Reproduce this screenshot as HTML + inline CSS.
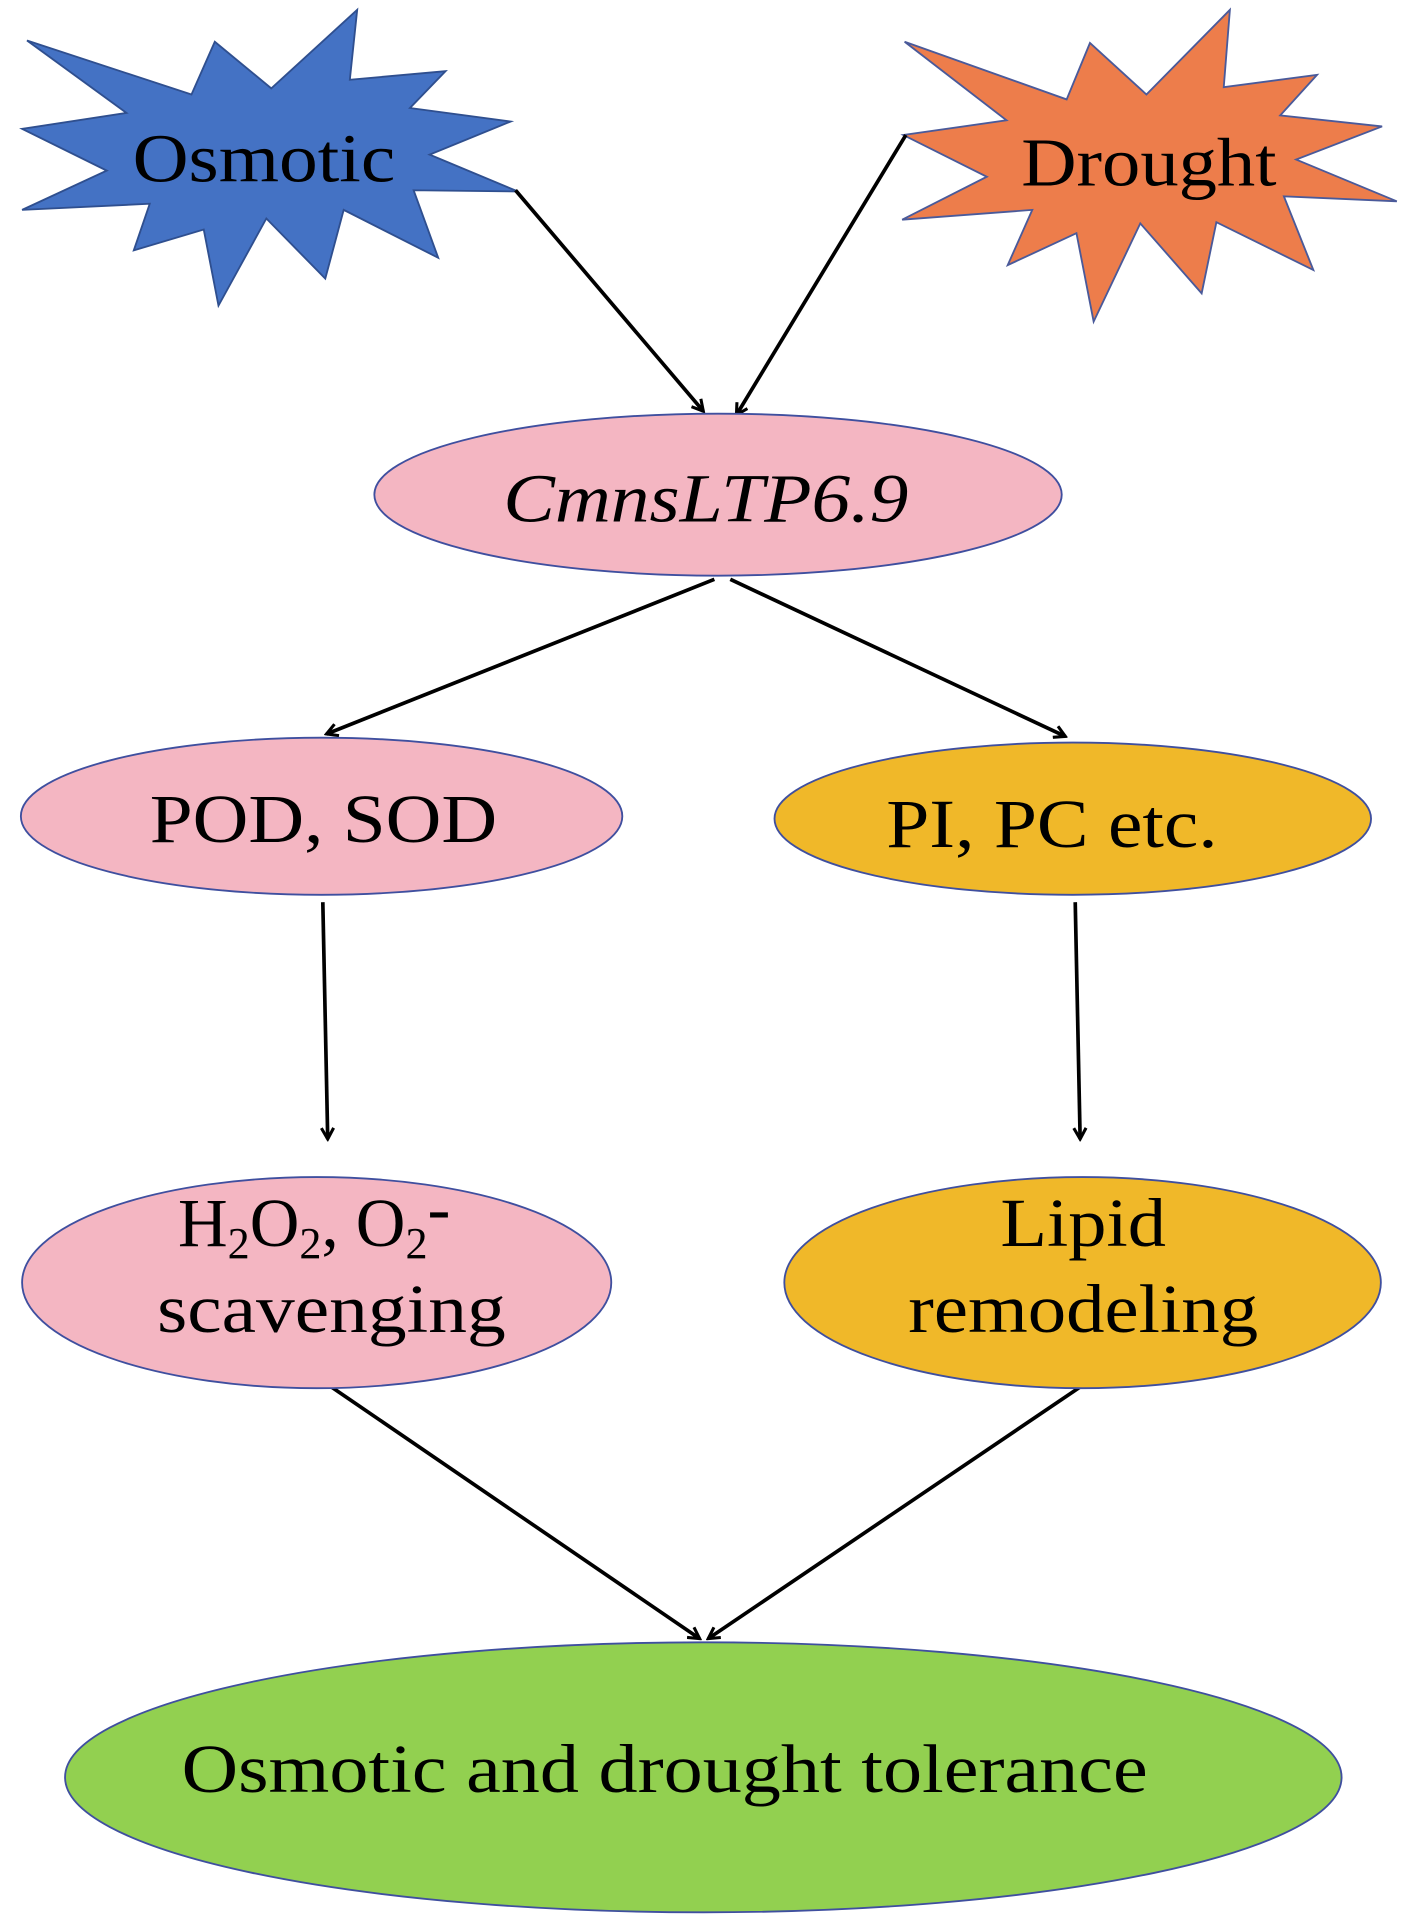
<!DOCTYPE html>
<html><head><meta charset="utf-8"><style>
html,body{margin:0;padding:0;background:#fff;width:1414px;height:1924px;overflow:hidden}
svg{display:block}
text{font-family:"Liberation Serif",serif;fill:#000}
</style></head><body>
<svg width="1414" height="1924" viewBox="0 0 1152 1567.5" xmlns="http://www.w3.org/2000/svg">
<defs>
<marker id="ah" markerWidth="12" markerHeight="12" refX="10" refY="6" orient="auto" markerUnits="userSpaceOnUse" viewBox="0 0 12 12">
<path d="M1,1 L10,6 L1,11" fill="none" stroke="#000" stroke-width="2.5"/>
</marker>
</defs>
<polygon points="22,33 156,77 175,34 221,72 291,8 285,65 363,58 334,88 416,99 350,126 422,156 337,155 357,210 280,171 265,227 217,178 178,249 166,187 109,204 122,166 18,171 87,139 18,105 103,92" fill="#4472c4" stroke="#2f4f8f" stroke-width="1.5"/>
<polygon points="737,34 869,81 888,35 934,77 1002,8 997,71 1073,61 1043,94 1126,103 1056,130 1138,164 1046,160 1070,220 991,181 979,239 929,182 891,262 877,190 821,216 841,171 735,179 804,144 736,110 820,98" fill="#ed7d4b" stroke="#4a5a9a" stroke-width="1.5"/>
<text x="108" y="148" font-size="56" textLength="214" lengthAdjust="spacingAndGlyphs">Osmotic</text>
<text x="832" y="151" font-size="56" textLength="208" lengthAdjust="spacingAndGlyphs">Drought</text>

<g stroke="#000" stroke-width="3" fill="none" marker-end="url(#ah)">
<line x1="420" y1="155" x2="573" y2="335"/>
<line x1="738" y1="110" x2="600" y2="338"/>
<line x1="582" y1="472" x2="266" y2="598"/>
<line x1="595" y1="472" x2="868" y2="600"/>
<line x1="263" y1="735" x2="267" y2="928"/>
<line x1="876" y1="735" x2="880" y2="928"/>
<line x1="270" y1="1130" x2="570" y2="1335"/>
<line x1="880" y1="1130" x2="577" y2="1335"/>
</g>

<ellipse cx="585" cy="403" rx="280" ry="66" fill="#f4b6c2" stroke="#3f4f9f" stroke-width="1.5"/>
<text x="410" y="425" font-size="56" font-style="italic" textLength="330" lengthAdjust="spacingAndGlyphs">CmnsLTP6.9</text>

<ellipse cx="262" cy="665" rx="245" ry="64" fill="#f4b6c2" stroke="#3f4f9f" stroke-width="1.5"/>
<text x="122" y="686" font-size="56" textLength="283" lengthAdjust="spacingAndGlyphs">POD, SOD</text>

<ellipse cx="874" cy="667" rx="243" ry="62" fill="#f0b829" stroke="#3f4f9f" stroke-width="1.5"/>
<text x="722" y="690" font-size="56" textLength="270" lengthAdjust="spacingAndGlyphs">PI, PC etc.</text>

<ellipse cx="258" cy="1045" rx="240" ry="86" fill="#f4b6c2" stroke="#3f4f9f" stroke-width="1.5"/>
<text x="145" y="1015" font-size="56">H<tspan font-size="36" dy="10">2</tspan><tspan dy="-10">O</tspan><tspan font-size="36" dy="10">2</tspan><tspan dy="-10">, O</tspan><tspan font-size="36" dy="10">2</tspan><tspan dy="-22">-</tspan></text>
<text x="128" y="1085" font-size="56" textLength="284" lengthAdjust="spacingAndGlyphs">scavenging</text>

<ellipse cx="882" cy="1045" rx="243" ry="86" fill="#f0b829" stroke="#3f4f9f" stroke-width="1.5"/>
<text x="815" y="1015" font-size="56" textLength="135" lengthAdjust="spacingAndGlyphs">Lipid</text>
<text x="740" y="1085" font-size="56" textLength="285" lengthAdjust="spacingAndGlyphs">remodeling</text>

<ellipse cx="573" cy="1448" rx="520" ry="110" fill="#92d050" stroke="#3f4f9f" stroke-width="1.5"/>
<text x="148" y="1460" font-size="56" textLength="787" lengthAdjust="spacingAndGlyphs">Osmotic and drought tolerance</text>
</svg>
</body></html>
